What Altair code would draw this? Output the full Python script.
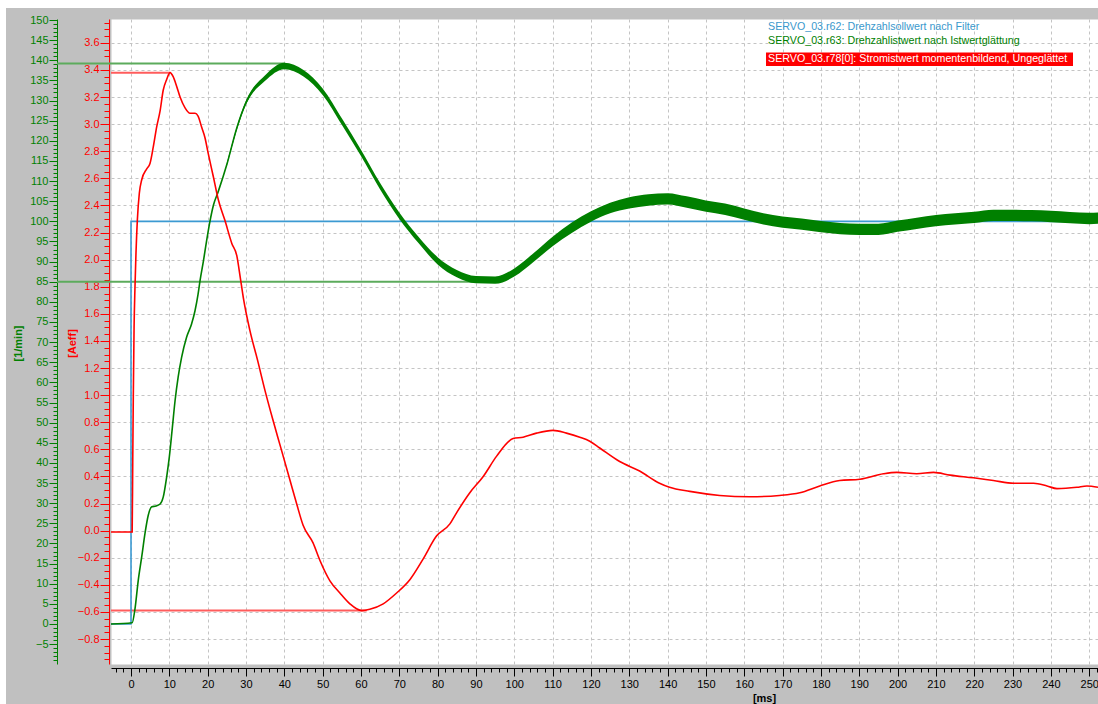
import altair as alt
import pandas as pd

# ---------------- data ----------------
# r78: torque-producing current [Aeff] (red)
red_time = [-5.22, 0.3, 0.45, 0.6, 0.8, 1.04, 1.3, 1.65, 2.17, 2.8, 4.1, 4.95, 5.8, 6.7, 7.6, 8.4,
            9.3, 10.2, 11.0, 11.9, 12.8, 14.1, 15.4, 16.7, 17.5, 18.4, 19.3, 20.1, 21.5, 22.8, 24.5,
            26.3, 27.6, 28.5, 29.3, 31.0, 33.0, 35.0, 37.0, 39.0, 41.5, 43.2, 44.9, 47.5, 49.3, 51.9,
            54.5, 57.1, 60.2, 62.3, 65.8, 69.3, 72.8, 76.2, 79.7, 83.2, 84.9, 88.4, 91.9, 95.4, 99.7,
            102.3, 105.8, 110.1, 113.6, 117.1, 119.7, 122.3, 127.5, 132.7, 137.9, 140.5, 145.8, 153.6,
            161.4, 169.2, 174.5, 179.7, 184.9, 190.2, 196.3, 199.8, 205.0, 209.4, 213.7, 219.8, 225.0,
            230.3, 235.5, 239.0, 241.6, 246.8, 249.4, 252.3]
red_current = [-0.01, -0.01, 0.5, 1.0, 1.5, 1.80, 2.05, 2.29, 2.49, 2.59, 2.67, 2.71, 2.83, 2.98, 3.10,
               3.25, 3.33, 3.38, 3.35, 3.28, 3.20, 3.12, 3.08, 3.08, 3.06, 2.98, 2.90, 2.79, 2.61, 2.44,
               2.29, 2.12, 2.03, 1.87, 1.72, 1.48, 1.26, 1.03, 0.82, 0.62, 0.37, 0.20, 0.04, -0.09,
               -0.22, -0.37, -0.46, -0.54, -0.59, -0.58, -0.54, -0.46, -0.36, -0.21, -0.04, 0.05, 0.13,
               0.28, 0.40, 0.55, 0.68, 0.69, 0.72, 0.74, 0.72, 0.69, 0.66, 0.61, 0.51, 0.44, 0.35, 0.32,
               0.29, 0.26, 0.25, 0.26, 0.28, 0.33, 0.37, 0.38, 0.42, 0.43, 0.42, 0.43, 0.41, 0.39, 0.37,
               0.35, 0.35, 0.33, 0.31, 0.32, 0.33, 0.32]

# r63: actual speed after smoothing [1/min] (green)
green_time = [-5.22, 0.3, 1.0, 1.9, 2.8, 3.65, 4.5, 5.4, 6.5, 7.6, 8.4, 9.3, 10.0, 10.8, 11.5, 12.3,
              13.2, 14.5, 15.8, 16.7, 17.5, 18.0, 18.9, 19.7, 20.5, 21.5, 22.8, 25, 27.6, 30, 32, 35,
              37, 40, 42.3, 45, 50, 55, 60, 65, 70, 75, 80, 85, 90, 95, 100, 105, 110, 115, 120, 125,
              130, 135, 140, 145, 150, 155, 160, 165, 170, 175, 180, 185, 190, 195, 200, 205, 210, 215,
              220, 225, 230, 235, 240, 245, 250, 252.3]
green_speed = [0, 0.3, 3.5, 10.9, 16.7, 22.5, 27, 29.1, 29.3, 29.8, 31.5, 36.5, 41.5, 48.9, 55.5, 61.3,
               66.2, 71.2, 74.5, 77.8, 81.9, 85.2, 90.2, 95, 99.5, 104, 107.5, 114.1, 123.2, 129.5,
               132.8, 135.6, 137.4, 138.6, 138.4, 136.8, 132.2, 124.8, 117, 108.7, 101.4, 95.4, 90.2,
               87, 85.5, 85.4, 87.3, 91, 95, 98.4, 101.2, 103.3, 104.6, 105.3, 105.6, 104.8, 103.8, 103,
               101.8, 100.6, 99.8, 99.3, 98.7, 98.2, 98, 98, 98.8, 99.5, 100.2, 100.6, 101, 101.5,
               101.5, 101.4, 101.2, 100.9, 100.7, 100.8]

# extent of the noisy green band (lower / upper edge)
band_time = [25, 30, 35, 40, 45, 50, 55, 60, 65, 70, 75, 80, 85, 90, 95, 100, 105, 110, 115, 120,
             125, 130, 135, 140, 145, 150, 155, 160, 165, 170, 175, 180, 185, 190, 195, 200, 205,
             210, 215, 220, 225, 230, 235, 240, 245, 250, 252.3]
band_low = [113.8, 129.0, 134.9, 137.8, 136.0, 131.4, 124.0, 116.2, 107.9, 100.6, 94.6, 89.3, 86.1,
            84.6, 84.5, 86.3, 89.9, 93.8, 97.1, 99.9, 102.0, 103.2, 103.9, 104.2, 103.4, 102.4, 101.6,
            100.4, 99.2, 98.4, 97.9, 97.3, 96.8, 96.6, 96.6, 97.4, 98.1, 98.8, 99.2, 99.6, 100.1,
            100.1, 100.0, 99.8, 99.5, 99.3, 99.4]
band_high = [114.4, 130.0, 136.3, 139.4, 137.6, 133.0, 125.6, 117.8, 109.5, 102.2, 96.2, 91.1, 87.9,
             86.4, 86.3, 88.3, 92.1, 96.2, 99.7, 102.5, 104.6, 106.0, 106.7, 107.0, 106.2, 105.2,
             104.4, 103.2, 102.0, 101.2, 100.7, 100.1, 99.6, 99.4, 99.4, 100.2, 100.9, 101.6, 102.0,
             102.4, 102.9, 102.9, 102.8, 102.6, 102.3, 102.1, 102.2]

# r62: speed setpoint after filter [1/min] (blue)
set_time = [-5.22, 0.0, 0.0, 252.3]
set_speed = [0, 0, 100, 100]

# cursor (measurement) lines
green_cursor_level = [139.2, 85.0]
green_cursor_start = [-19.3, -19.3]
green_cursor_end = [40.2, 95.5]
red_cursor_level = [3.38, -0.59]
red_cursor_start = [-5.22, -5.22]
red_cursor_end = [10.2, 61.5]

legend_labels = [
    "SERVO_03.r62: Drehzahlsollwert nach Filter",
    "SERVO_03.r63: Drehzahlistwert nach Istwertglättung",
    "SERVO_03.r78[0]: Stromistwert momentenbildend, Ungeglättet",
]

x_major_ticks = list(range(0, 251, 10))
x_minor_ticks = list(range(-4, 253, 2))
green_major_ticks = list(range(-5, 151, 5))
green_minor_ticks = list(range(-9, 151))
red_major_ticks = [round(-0.8 + 0.2 * i, 2) for i in range(23)]
red_minor_ticks = [round(-0.95 + 0.05 * i, 2) for i in range(95)]

# ---------------- styling ----------------
FONT = "Liberation Sans"
GREEN = "#008000"
RED = "#ff0000"
BLUE = "#3c9ad2"
GRID = "#c4c4c4"

xs = alt.Scale(domain=[-5.22, 252.3], nice=False, zero=False)
gs = alt.Scale(domain=[-9.94, 150.25], nice=False, zero=False)
rs = alt.Scale(domain=[-0.984, 3.776], nice=False, zero=False)

red_df = pd.DataFrame({"t": red_time, "v": red_current, "i": list(range(len(red_time)))})
green_df = pd.DataFrame({"t": green_time, "n": green_speed, "i": list(range(len(green_time)))})
band_df = pd.DataFrame({"t": band_time, "lo": band_low, "hi": band_high})
set_df = pd.DataFrame({"t": set_time, "n": set_speed, "i": list(range(len(set_time)))})
gcur_df = pd.DataFrame({"s": green_cursor_start, "e": green_cursor_end, "y": green_cursor_level})
rcur_df = pd.DataFrame({"s": red_cursor_start, "e": red_cursor_end, "y": red_cursor_level})
one = pd.DataFrame({"label": [legend_labels[0]]})

x_major_axis = alt.Axis(orient="bottom", offset=4, values=x_major_ticks, tickSize=8,
                        tickColor="black", domainColor="black", labelColor="black",
                        labelFont=FONT, labelFontSize=11, labelPadding=2, labelOverlap=False,
                        labelFlush=False, grid=True, gridColor=GRID, gridDash=[3, 3],
                        title="[ms]", titleFont=FONT, titleFontSize=11, titleFontWeight="bold",
                        titleColor="black", titleX=653, titleY=24, titleBaseline="top",
                        titleAlign="center")
x_minor_axis = alt.Axis(orient="bottom", offset=4, values=x_minor_ticks, tickSize=4,
                        tickColor="black", domain=False, labels=False, grid=False, title="")

green_major_axis = alt.Axis(orient="left", offset=54, values=green_major_ticks, tickSize=8,
                            tickColor=GREEN, domainColor=GREEN, labelColor=GREEN, labelFont=FONT,
                            labelFontSize=11, labelPadding=1, labelOverlap=False, grid=False,
                            title="[1/min]", titleColor=GREEN, titleFont=FONT, titleFontSize=11,
                            titleFontWeight="bold", titleAngle=270, titleX=-39, titleY=324,
                            titleAlign="center", titleBaseline="middle")
green_minor_axis = alt.Axis(orient="left", offset=54, values=green_minor_ticks, tickSize=4,
                            tickColor=GREEN, domain=False, labels=False, grid=False, title="")

red_major_axis = alt.Axis(orient="left", offset=2, values=red_major_ticks, tickSize=9,
                          tickColor=RED, domainColor=RED, labelColor=RED, labelFont=FONT,
                          labelFontSize=11, labelPadding=1, labelOverlap=False, grid=True,
                          gridColor=GRID, gridDash=[3, 3], format=".1f",
                          title="[Aeff]", titleColor=RED, titleFont=FONT, titleFontSize=11,
                          titleFontWeight="bold", titleAngle=270, titleX=-37, titleY=324,
                          titleAlign="center", titleBaseline="middle")
red_minor_axis = alt.Axis(orient="left", offset=2, values=red_minor_ticks, tickSize=5,
                          tickColor=RED, domain=False, labels=False, grid=False, title="")

# ---------------- layers ----------------
border_left = alt.Chart(one).mark_rect(color="white").encode(
    x=alt.value(-111), x2=alt.value(-105), y=alt.value(-19), y2=alt.value(685))
border_top = alt.Chart(one).mark_rect(color="white").encode(
    x=alt.value(-111), x2=alt.value(987), y=alt.value(-19), y2=alt.value(-11))

red_cursor = alt.Chart(rcur_df).mark_rule(color="#ff5c5c", strokeWidth=2).encode(
    x=alt.X("s:Q", scale=xs, axis=None), x2="e:Q",
    y=alt.Y("y:Q", scale=rs, axis=red_minor_axis))

green_cursor = alt.Chart(gcur_df).mark_rule(color="#5cab5c", strokeWidth=2).encode(
    x=alt.X("s:Q", scale=xs, axis=x_minor_axis), x2="e:Q",
    y=alt.Y("y:Q", scale=gs, axis=green_minor_axis))

setpoint = alt.Chart(set_df).mark_line(color=BLUE, strokeWidth=1.6).encode(
    x=alt.X("t:Q", scale=xs, axis=x_major_axis),
    y=alt.Y("n:Q", scale=gs, axis=green_major_axis),
    order="i:Q")

band = alt.Chart(band_df).mark_area(color=GREEN, opacity=1, interpolate="monotone").encode(
    x=alt.X("t:Q", scale=xs, axis=None),
    y=alt.Y("lo:Q", scale=gs, axis=None), y2="hi:Q")

speed = alt.Chart(green_df).mark_line(color=GREEN, strokeWidth=1.6, interpolate="monotone").encode(
    x=alt.X("t:Q", scale=xs, axis=None),
    y=alt.Y("n:Q", scale=gs, axis=None),
    order="i:Q")

current = alt.Chart(red_df).mark_line(color=RED, strokeWidth=1.6, interpolate="monotone").encode(
    x=alt.X("t:Q", scale=xs, axis=None),
    y=alt.Y("v:Q", scale=rs, axis=red_major_axis),
    order="i:Q")

leg_box = alt.Chart(one).mark_rect(color=RED).encode(
    x=alt.value(655), x2=alt.value(962), y=alt.value(33.5), y2=alt.value(47))

def legend_text(idx, color, ypos):
    df = pd.DataFrame({"label": [legend_labels[idx]]})
    return alt.Chart(df).mark_text(align="left", baseline="middle", font=FONT, fontSize=10.7,
                                   color=color).encode(
        text="label:N", x=alt.value(657), y=alt.value(ypos))

leg1 = legend_text(0, "#3a98cc", 8)
leg2 = legend_text(1, GREEN, 21.5)
leg3 = legend_text(2, "white", 40)

chart = alt.layer(
    border_left, border_top, red_cursor, green_cursor, setpoint, band, speed, current,
    leg_box, leg1, leg2, leg3
).resolve_scale(
    y="independent"
).resolve_axis(
    y="independent", x="independent"
).properties(
    width=987, height=645,
    padding={"left": 111, "top": 19, "right": 0, "bottom": 40},
    autosize=alt.AutoSizeParams(type="none"),
    background="#c0c0c0",
).configure_view(
    fill="white", stroke="transparent"
)

chart.save("out.html", embed_options={"renderer": "svg", "actions": False})
